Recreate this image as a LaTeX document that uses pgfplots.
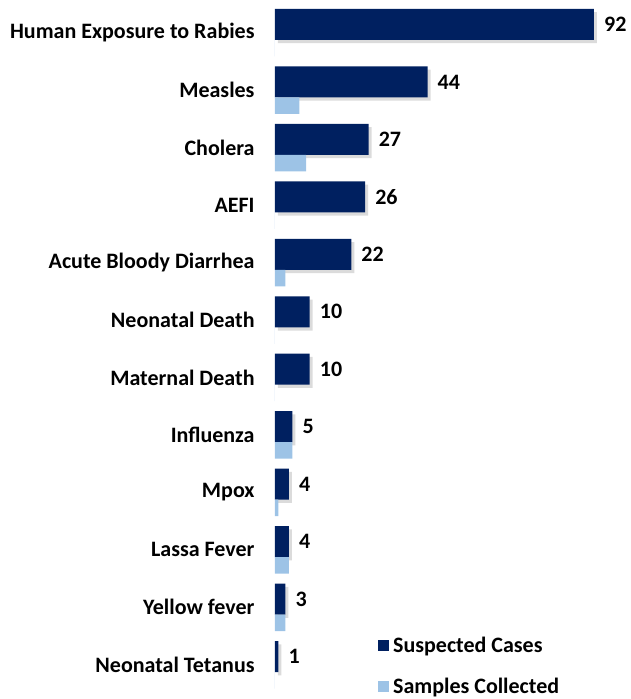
\documentclass[border=0pt]{standalone}
\usepackage{pgfplots}
\pgfplotsset{compat=1.18}
\usepackage{fontspec}
\setmainfont{Carlito}
\definecolor{navy}{HTML}{002060}
\definecolor{skyb}{HTML}{9DC3E6}

% y = 11 is the top category
\pgfplotstableread{
y cases samples
11 92 0
10 44 7
9  27 9
8  26 0
7  22 3
6  10 0
5  10 0
4  5  5
3  4  1
2  4  4
1  3  3
0  1  0
}\datatable

\begin{document}
\begin{tikzpicture}[font=\bfseries\fontsize{22}{26}\selectfont]
\begin{axis}[
    scale only axis,
    width=355pt, height=699pt,
    xmin=0, xmax=102.4,
    ymin=-0.596, ymax=11.570,
    xbar,
    /pgf/number format/assume math mode=true,
    axis line style={draw=none},
    major tick style={draw=none},
    xtick=\empty,
    ytick={0,...,11},
    yticklabels={Neonatal Tetanus,Yellow fever,Lassa Fever,Mpox\ ,Influenza\ ,Maternal Death,Neonatal Death,Acute Bloody Diarrhea,AEFI\ ,Cholera,Measles\ ,Human Exposure to Rabies},
    yticklabel style={inner sep=0pt, xshift=-16pt, anchor=east},
    legend image code/.code={\fill[#1] (0pt,-5.5pt) rectangle (11pt,5.5pt);},
    legend style={draw=none, fill=none, inner sep=0pt,
      at={(axis cs:29.7,0.49)}, anchor=north west,
      row sep=24pt, cells={anchor=west},
      nodes={inner sep=0pt, inner xsep=4pt}},
    legend cell align=left,
]
  % soft shadow under the dark bars
  \addplot[forget plot, draw=none, fill=black, fill opacity=0.14,
    bar width=31pt, bar shift=5pt, xshift=3pt]
    table[x=cases, y=y] {\datatable};

  \addplot[draw=none, fill=navy, bar width=31pt, bar shift=8.25pt,
    nodes near coords, point meta=x,
    every node near coord/.append style={anchor=west, inner sep=0pt, xshift=10pt, black}]
    table[x=cases, y=y] {\datatable};

  \addplot[draw=none, fill=skyb, bar width=16.5pt, bar shift=-15.5pt]
    table[x=samples, y=y] {\datatable};

  \legend{Suspected Cases, Samples Collected}
  \coordinate (sw) at (rel axis cs:0,0);
  \coordinate (ne) at (rel axis cs:1,1);
\end{axis}
\pgfresetboundingbox
\path ([xshift=-275pt]sw) rectangle (ne);
\end{tikzpicture}
\end{document}
